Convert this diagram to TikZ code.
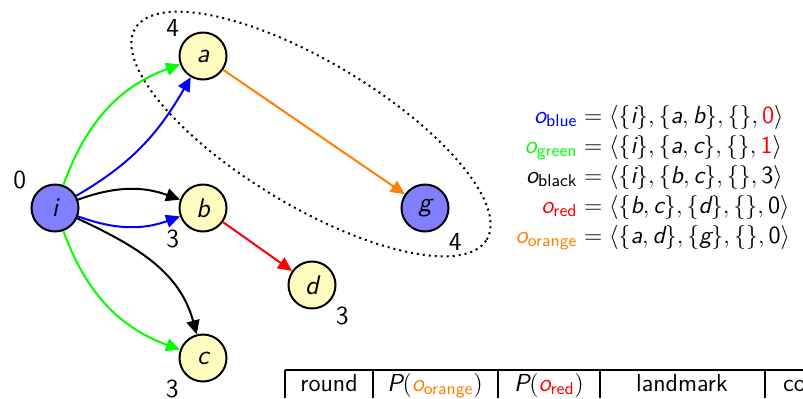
\documentclass[tikz,border=0pt]{standalone}
\usepackage{amsmath}
\usepackage{tikz}
\usetikzlibrary{
    positioning,
    arrows.meta
}

\newcommand{\mv}[1]{\text{\itshape #1}}
\newcommand{\picfont}{\fontsize{12.3}{15}\selectfont\sffamily}
\newcommand{\lblfont}{\fontsize{13}{15}\selectfont\sffamily}
\newcommand{\statefont}{\fontsize{13.5}{15}\selectfont\sffamily\itshape}

\begin{document}
\begin{tikzpicture}[
    x=0.5pt, y=-0.5pt,
    font=\picfont,
    statenode/.style={circle, draw=black, line width=1pt, fill=yellow!25, minimum size=23.5pt, inner sep=0pt, font=\statefont},
    goalnode/.style={statenode, fill=blue!50},
    arrow/.style={-{Triangle[length=7pt, width=6.5pt]}, line width=1pt},
    lbl/.style={anchor=center, label distance=9.5pt, font=\lblfont},
    tableline/.style={line width=0.6pt}
]
\useasboundingbox (0,0) rectangle (803,398);
\clip (0,0) rectangle (803,398);

% states
\node[goalnode, label={[lbl, label distance=10.4pt]141:0}] (i) at (55,208) {i};
\node[statenode, right=49.5pt of i, label={[lbl]226:3}] (b) {b};
\node[statenode, above=51.5pt of b, label={[lbl, label distance=8.5pt]137:4}] (a) {a};
\node[statenode, below=50.5pt of b, label={[lbl]225:3}] (c) {c};
\node[statenode, label={[lbl]-46:3}] (d) at (312,285) {d};
\node[goalnode, label={[lbl, label distance=10.3pt]-48:4}] (g) at (425,208) {g};

% landmark region
\coordinate (ctr) at (311,134);
\draw[dotted, line width=1pt, rotate around={-31:(ctr)}] (ctr) ellipse [x radius=102.5pt, y radius=36pt];

% operators
\draw[arrow, green] (i) to[out=70, in=200] (a);
\draw[arrow, blue] (i) to[out=30, in=-120] (a);
\draw[arrow, black] (i) to[out=20, in=160] (b);
\draw[arrow, blue] (i) to[out=-20, in=200] (b);
\draw[arrow, black] (i) to[out=-25, in=105] (c);
\draw[arrow, green] (i) to[out=-70, in=160] (c);
\draw[arrow, orange] (a) -- (g);
\draw[arrow, red] (b) -- (d);

\node[anchor=east] (ops) at (797,177) {%
\begin{tabular}{@{}r@{${}={}$}l@{}}
$\textcolor{blue}{\mv{o}_{\text{blue}}}$ & $\langle\{\mv{i}\},\{\mv{a},\mv{b}\},\{\},\textcolor{red}{\text{0}}\rangle$\\
$\textcolor{green}{\mv{o}_{\text{green}}}$ & $\langle\{\mv{i}\},\{\mv{a},\mv{c}\},\{\},\textcolor{red}{\text{1}}\rangle$\\
$\mv{o}_{\text{black}}$ & $\langle\{\mv{i}\},\{\mv{b},\mv{c}\},\{\},\text{3}\rangle$\\
$\textcolor{red}{\mv{o}_{\text{red}}}$ & $\langle\{\mv{b},\mv{c}\},\{\mv{d}\},\{\},\text{0}\rangle$\\
$\textcolor{orange}{\mv{o}_{\text{orange}}}$ & $\langle\{\mv{a},\mv{d}\},\{\mv{g}\},\{\},\text{0}\rangle$
\end{tabular}};

% table head
\draw[tableline] (285,370) -- (803,370);
\foreach \x in {285,373,498,600,765}
    \draw[tableline] (\x,370) -- (\x,398);
\node[anchor=base] (round) at (329,391) {round};
\node[anchor=base] (porange) at (435,391) {$\mv{P}(\textcolor{orange}{\mv{o}_{\text{orange}}})$};
\node[anchor=base] (pred) at (549,391) {$\mv{P}(\textcolor{red}{\mv{o}_{\text{red}}})$};
\node[anchor=base] (landmark) at (682,391) {landmark};
\node[anchor=base west] (co) at (776,391) {co};
\end{tikzpicture}
\end{document}
